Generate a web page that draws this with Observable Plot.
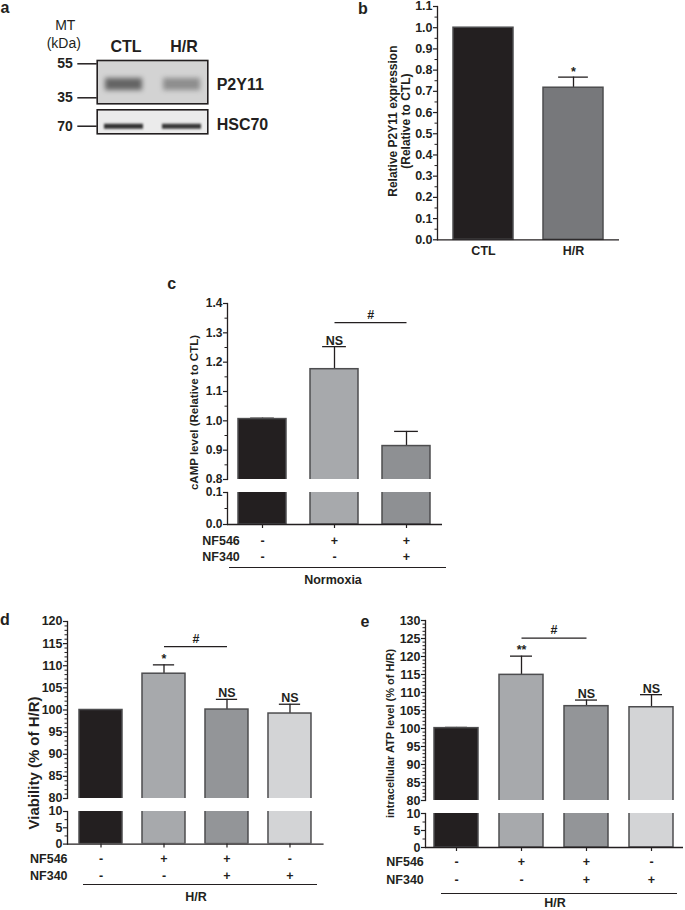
<!DOCTYPE html>
<html><head><meta charset="utf-8">
<script src="https://cdn.jsdelivr.net/npm/d3@7"></script>
<script src="https://cdn.jsdelivr.net/npm/@observablehq/plot@0.6"></script>
<style>
body{margin:0;background:#fff;}
#fig{position:relative;width:685px;height:910px;overflow:hidden;background:#fff;}
</style></head><body><div id="fig"></div>
<script>
// ---------------- data ----------------
// panel a (western blot)
const blotLanes = ["CTL", "H/R"];
const p2y11Intensity = [1.0, 0.62];
const hsc70Intensity = [1.0, 0.97];
const p2y11MW = 42;
const hsc70MW = 70;
const markersTop = [55, 35];
const markersBottom = [70];

// panel b
const bCats = ["CTL", "H/R"];
const bValues = [1.0, 0.717];
const bErrors = [0, 0.05];
const bSig = ["", "*"];
const bTicks = [0, 0.1, 0.2, 0.3, 0.4, 0.5, 0.6, 0.7, 0.8, 0.9, 1.0, 1.1];

// panel c (normoxia)
const cNF546 = ["-", "+", "+"];
const cNF340 = ["-", "-", "+"];
const cValues = [1.006, 1.176, 0.914];
const cErrors = [0.003, 0.077, 0.05];
const cSig = ["", "NS", ""];
const cBracket = {from: 1, to: 2, level: 1.335, label: "#"};
const cTicksUpper = [0.8, 0.9, 1.0, 1.1, 1.2, 1.3, 1.4];
const cTicksLower = [0.0, 0.1];

// panel d (viability, H/R)
const dNF546 = ["-", "+", "+", "-"];
const dNF340 = ["-", "-", "+", "+"];
const dValues = [100, 108.2, 100.1, 99.2];
const dErrors = [0, 2.0, 2.3, 2.1];
const dSig = ["", "*", "NS", "NS"];
const dBracket = {from: 1, to: 2, level: 114.3, label: "#"};
const dTicksUpper = [80, 85, 90, 95, 100, 105, 110, 115, 120];
const dTicksLower = [0, 5, 10];

// panel e (ATP, H/R)
const eNF546 = ["-", "+", "+", "-"];
const eNF340 = ["-", "-", "+", "+"];
const eValues = [100.1, 114.9, 106.2, 105.9];
const eErrors = [0.2, 5.2, 1.7, 3.5];
const eSig = ["", "**", "NS", "NS"];
const eBracket = {from: 1, to: 2, level: 125.1, label: "#"};
const eTicksUpper = [80, 85, 90, 95, 100, 105, 110, 115, 120, 125, 130];
const eTicksLower = [0, 5, 10];

// ---------------- style ----------------
const FONT = "'Liberation Sans', Arial, Helvetica, sans-serif";
const ink = "#231f20";
const barStroke = "#4d4d4f";
const fig = document.getElementById("fig");

function baseStyle(size) {
  return {fontFamily: FONT, fontSize: size + "px", fontWeight: "bold", color: ink,
          overflow: "visible", background: "transparent"};
}
function place(svg, left, top) {
  svg.style.position = "absolute";
  svg.style.left = left + "px";
  svg.style.top = top + "px";
  svg.style.maxWidth = "none";
  fig.append(svg);
}
function label(text, x, y, {size = 12, weight = "bold", anchor = "middle"} = {}) {
  const el = document.createElement("div");
  el.textContent = text;
  const tx = anchor === "middle" ? "-50%" : anchor === "end" ? "-100%" : "0";
  el.style.cssText = `position:absolute;left:${x}px;top:${y}px;font-family:${FONT};font-weight:${weight};font-size:${size}px;line-height:1;white-space:nowrap;transform:translate(${tx},-50%);color:${ink}`;
  fig.append(el);
}
function underline(x, y, w) {
  const el = document.createElement("div");
  el.style.cssText = `position:absolute;left:${x}px;top:${y}px;width:${w}px;height:0;border-top:1.3px solid ${ink}`;
  fig.append(el);
}
const f1 = d3.format(".1f");
const f0 = d => String(d);

// ---------------- panel a ----------------
{
  const bands = blotLanes.map((l, i) => ({lane: l, mw: p2y11MW, intensity: p2y11Intensity[i]}));
  const svg = Plot.plot({
    width: 215, height: 105.3, marginLeft: 96.7, marginRight: 7.7, marginTop: 60, marginBottom: 2,
    x: {type: "band", domain: blotLanes, paddingInner: 0.3, paddingOuter: 0.1},
    y: {type: "log", domain: [55, 35], range: [63.3, 97.3]},
    opacity: {type: "identity"},
    style: baseStyle(14),
    marks: [
      Plot.frame({fill: "#d3d3d3", stroke: "none"}),
      Plot.tickY(bands, {x: "lane", y: "mw", stroke: "#2a2a2a", strokeOpacity: d => 0.66 * d.intensity,
        strokeWidth: 12, insetLeft: 2, insetRight: 2, imageFilter: "blur(2.8px)"}),
      Plot.frame({stroke: ink, strokeWidth: 1.6}),
      Plot.axisX({anchor: "top", tickSize: 0, tickPadding: 8, label: null, fontSize: 16, dx: 2}),
      Plot.axisY({ticks: markersTop, tickSize: 19.4, tickPadding: 5, tickFormat: f0, label: null, fontSize: 14, strokeWidth: 1.5})
    ]
  });
  place(svg, 0, 0);
  const bands2 = blotLanes.map((l, i) => ({lane: l, mw: hsc70MW, intensity: hsc70Intensity[i]}));
  const svg2 = Plot.plot({
    width: 215, height: 30.3, marginLeft: 96.7, marginRight: 7.7, marginTop: 4.3, marginBottom: 2,
    x: {type: "band", domain: blotLanes, paddingInner: 0.3, paddingOuter: 0.1, axis: null},
    y: {type: "log", domain: [85, 64], range: [4.3, 28.3]},
    opacity: {type: "identity"},
    style: baseStyle(14),
    marks: [
      Plot.frame({fill: "#ebebeb", stroke: "none"}),
      Plot.tickY(bands2, {x: "lane", y: "mw", stroke: "#1e1e1e", strokeOpacity: d => 0.9 * d.intensity,
        strokeWidth: 5, insetLeft: 1, insetRight: 1, imageFilter: "blur(1.1px)"}),
      Plot.frame({stroke: ink, strokeWidth: 1.6}),
      Plot.axisY({ticks: markersBottom, tickSize: 19.4, tickPadding: 5, tickFormat: f0, label: null, fontSize: 14, strokeWidth: 1.5})
    ]
  });
  place(svg2, 0, 105);
  label("MT", 65.3, 25, {size: 14, weight: "normal"});
  label("(kDa)", 63.8, 43, {size: 14, weight: "normal"});
  label("P2Y11", 216.7, 85, {size: 16, anchor: "start"});
  label("HSC70", 216.7, 125, {size: 16, anchor: "start"});
}

// ---------------- helpers for bar panels ----------------
function rowsOf(cats, values, errors, sig, fills) {
  return cats.map((c, i) => ({cat: c, value: values[i], err: errors[i], sig: sig[i], fill: fills[i]}));
}
function yLabel(text, o) {
  return Plot.text([text], {text: d => d, frameAnchor: "left", rotate: -90, textAnchor: "middle",
    dx: o.ldx, dy: o.ldy, lineAnchor: "middle", lineHeight: 1.1, fontSize: o.lsize});
}
function upperPlot(o) {
  const data = rowsOf(o.cats, o.values, o.errors, o.sig, o.fills);
  const n = o.cats.length;
  const step = o.L / (n - o.pi + 2 * o.po);
  const bw = step * (1 - o.pi);
  const withErr = data.filter(d => d.err > 0);
  const marks = [
    Plot.ruleX(withErr, {x: "cat", y1: "value", y2: d => d.value + d.err, stroke: ink, strokeWidth: 1.3}),
    Plot.tickY(withErr, {x: "cat", y: d => d.value + d.err, stroke: ink, strokeWidth: 1.3, insetLeft: bw / 4, insetRight: bw / 4}),
    Plot.barY(data, {x: "cat", y1: 0, y2: "value", fill: "fill", stroke: barStroke, strokeWidth: 1.5, clip: true}),
    Plot.text(data.filter(d => d.sig), {x: "cat", y: d => d.value + d.err, text: "sig", lineAnchor: "bottom", dy: -2, fontSize: o.ssize}),
    Plot.axisY({ticks: o.ticks, tickSize: 4, tickPadding: 1, tickFormat: o.fmt, label: null, fontSize: o.fsize, strokeWidth: 1.2}),
    Plot.axisY({ticks: o.minor, tickSize: 2.5, tickFormat: () => "", label: null, strokeWidth: 1}),
    Plot.frame({anchor: "left", strokeWidth: 1.3}),
    yLabel(o.label, o)
  ];
  if (o.bracket) {
    marks.push(Plot.link([o.bracket], {x1: d => o.cats[d.from], x2: d => o.cats[d.to], y1: "level", y2: "level", stroke: ink, strokeWidth: 1.2}));
    marks.push(Plot.text([o.bracket], {x: d => o.cats[d.from], y: "level", text: "label", dx: step * (o.bracket.to - o.bracket.from) / 2, lineAnchor: "bottom", dy: -4, fontSize: o.ssize}));
  }
  return Plot.plot({
    width: o.ml + o.L + o.mr, height: o.mt + o.fh + o.mb,
    marginLeft: o.ml, marginRight: o.mr, marginTop: o.mt, marginBottom: o.mb,
    x: {type: "band", domain: o.cats, paddingInner: o.pi, paddingOuter: o.po, axis: null},
    y: {domain: o.domain},
    color: {type: "identity"},
    style: baseStyle(o.fsize),
    marks
  });
}
function lowerPlot(o) {
  const data = rowsOf(o.cats, o.values, o.errors, o.sig, o.fills);
  return Plot.plot({
    width: o.ml + o.L + o.mr, height: o.mt + o.fh + o.mb,
    marginLeft: o.ml, marginRight: o.mr, marginTop: o.mt, marginBottom: o.mb,
    x: {type: "band", domain: o.cats, paddingInner: o.pi, paddingOuter: o.po},
    y: {domain: o.domain},
    color: {type: "identity"},
    style: baseStyle(o.fsize),
    marks: [
      Plot.barY(data, {x: "cat", y1: 0, y2: "value", fill: "fill", stroke: barStroke, strokeWidth: 1.5, clip: true}),
      Plot.ruleY([0], {strokeWidth: 1.3}),
      Plot.axisX({tickSize: 4, tickFormat: () => "", label: null, strokeWidth: 1.2}),
      Plot.axisY({ticks: o.ticks, tickSize: 4, tickPadding: 1, tickFormat: o.fmt, label: null, fontSize: o.fsize, strokeWidth: 1.2}),
      Plot.axisY({ticks: o.minor, tickSize: 2.5, tickFormat: () => "", label: null, strokeWidth: 1}),
      Plot.frame({anchor: "left", strokeWidth: 1.3})
    ]
  });
}
function tablePlot(o) {
  const rowNames = ["NF546", "NF340"];
  const cells = o.cats.flatMap((c, i) => [{cat: c, row: "NF546", s: o.nf546[i]}, {cat: c, row: "NF340", s: o.nf340[i]}]);
  return Plot.plot({
    width: o.ml + o.L + o.mr, height: o.h,
    marginLeft: o.ml, marginRight: o.mr, marginTop: 0, marginBottom: 0,
    x: {type: "band", domain: o.cats, paddingInner: o.pi, paddingOuter: o.po, axis: null},
    y: {type: "point", domain: rowNames, range: o.yr, padding: 0, axis: null},
    style: baseStyle(o.tsize),
    marks: [
      Plot.text(cells, {x: "cat", y: "row", text: "s", fontSize: o.tsize}),
      Plot.text(rowNames, {y: d => d, text: d => d, frameAnchor: "left", textAnchor: "end", dx: o.rowDx, fontSize: o.tsize})
    ]
  });
}

// ---------------- panel b ----------------
{
  const fills = ["#231f20", "#77787b"];
  const data = rowsOf(bCats, bValues, bErrors, bSig, fills);
  const L = 182, pi = 0.335, po = 0.168;
  const step = L / (2 - pi + 2 * po), bw = step * (1 - pi);
  const withErr = data.filter(d => d.err > 0);
  const svg = Plot.plot({
    width: 60 + L + 10, height: 6 + 233.3 + 25, marginLeft: 60, marginRight: 10, marginTop: 6, marginBottom: 25,
    x: {type: "band", domain: bCats, paddingInner: pi, paddingOuter: po},
    y: {domain: [0, 1.1]},
    color: {type: "identity"},
    style: baseStyle(12.5),
    marks: [
      Plot.ruleX(withErr, {x: "cat", y1: "value", y2: d => d.value + d.err, stroke: ink, strokeWidth: 1.3}),
      Plot.tickY(withErr, {x: "cat", y: d => d.value + d.err, stroke: ink, strokeWidth: 1.3, insetLeft: bw / 4, insetRight: bw / 4}),
      Plot.barY(data, {x: "cat", y: "value", fill: "fill", stroke: barStroke, strokeWidth: 1.5}),
      Plot.text(data.filter(d => d.sig), {x: "cat", y: d => d.value + d.err, text: "sig", lineAnchor: "bottom", dy: -1, fontSize: 12.5}),
      Plot.ruleY([0], {strokeWidth: 1.3}),
      Plot.axisX({tickSize: 0, tickPadding: 6, label: null, fontSize: 12.5}),
      Plot.axisY({ticks: bTicks, tickSize: 4, tickPadding: 1, tickFormat: f1, label: null, fontSize: 12.5, strokeWidth: 1.2}),
      Plot.axisY({ticks: d3.range(0.05, 1.1, 0.1), tickSize: 2.5, tickFormat: () => "", label: null, strokeWidth: 1}),
      Plot.frame({anchor: "left", strokeWidth: 1.3}),
      yLabel("Relative P2Y11 expression\n(Relative to CTL)", {ldx: -38.3, ldy: -2, lsize: 12})
    ]
  });
  place(svg, 376.7, 0);
}

// ---------------- panel c ----------------
{
  const cats = cNF546.map((a, i) => `${a}/${cNF340[i]}`);
  const fills = ["#231f20", "#a7a9ac", "#8e9093"];
  const common = {cats, values: cValues, errors: cErrors, sig: cSig, fills, ml: 45, L: 215, mr: 5, pi: 0.331, po: 0.15, fsize: 12, ssize: 12.5, fmt: f1};
  place(upperPlot({...common, domain: [0.8, 1.4], ticks: cTicksUpper, minor: d3.range(0.85, 1.4, 0.1),
    mt: 30, fh: 176, mb: 4, label: "cAMP level (Relative to CTL)", ldx: -33.7, ldy: 21, lsize: 11.5, bracket: cBracket}), 181.7, 273.3);
  place(lowerPlot({...common, domain: [0, 0.1], ticks: cTicksLower, minor: [0.05], mt: 5, fh: 32, mb: 8}), 181.7, 487.3);
  place(tablePlot({...common, nf546: cNF546, nf340: cNF340, h: 34, yr: [10, 26], rowDx: 12.3, tsize: 12.5}), 181.7, 530);
  underline(229, 566.7, 217);
  label("Normoxia", 333, 579.5, {size: 12.5});
}

// ---------------- panel d ----------------
{
  const cats = dNF546.map((a, i) => `${a}/${dNF340[i]}`);
  const fills = ["#231f20", "#a7a9ac", "#939598", "#d3d4d6"];
  const common = {cats, values: dValues, errors: dErrors, sig: dSig, fills, ml: 45, L: 256.6, mr: 5, pi: 0.32, po: 0.165, fsize: 12.5, ssize: 12.5, fmt: f0};
  place(upperPlot({...common, domain: [80, 120], ticks: dTicksUpper, minor: d3.range(80, 121, 1).filter(v => v % 5),
    mt: 30, fh: 177, mb: 4, label: "Viability (% of H/R)", ldx: -33.4, ldy: 53, lsize: 15, bracket: dBracket}), 21.7, 590.7);
  place(lowerPlot({...common, domain: [0, 10], ticks: dTicksLower, minor: [2.5, 7.5], mt: 5, fh: 32.6, mb: 8}), 21.7, 805.7);
  place(tablePlot({...common, nf546: dNF546, nf340: dNF340, h: 34, yr: [9.3, 26.7], rowDx: 0, tsize: 12.5}), 21.7, 849);
  underline(82.7, 884.3, 234);
  label("H/R", 196, 896.7, {size: 12.5});
}

// ---------------- panel e ----------------
{
  const cats = eNF546.map((a, i) => `${a}/${eNF340[i]}`);
  const fills = ["#231f20", "#a7a9ac", "#939598", "#d3d4d6"];
  const common = {cats, values: eValues, errors: eErrors, sig: eSig, fills, ml: 45, L: 258, mr: 2, pi: 0.323, po: 0.146, fsize: 12.5, ssize: 12.5, fmt: f0};
  place(upperPlot({...common, domain: [80, 130], ticks: eTicksUpper, minor: d3.range(80, 131, 1).filter(v => v % 5),
    mt: 30, fh: 180, mb: 4, label: "intracellular ATP level (% of H/R)", ldx: -35, ldy: 23, lsize: 11, bracket: eBracket}), 380, 590);
  place(lowerPlot({...common, domain: [0, 10], ticks: eTicksLower, minor: [2.5, 7.5], mt: 5, fh: 34, mb: 8}), 380, 807.7);
  place(tablePlot({...common, nf546: eNF546, nf340: eNF340, h: 34, yr: [8.7, 27], rowDx: -1.7, tsize: 12.5}), 380, 852);
  underline(440.7, 893.3, 236.6);
  label("H/R", 555, 903, {size: 12.5});
}

// panel letters
label("a", 5, 8, {size: 16});
label("b", 363, 9, {size: 16});
label("c", 171.7, 284, {size: 16});
label("d", 5, 620, {size: 16});
label("e", 365, 621.7, {size: 16});
</script></body></html>
